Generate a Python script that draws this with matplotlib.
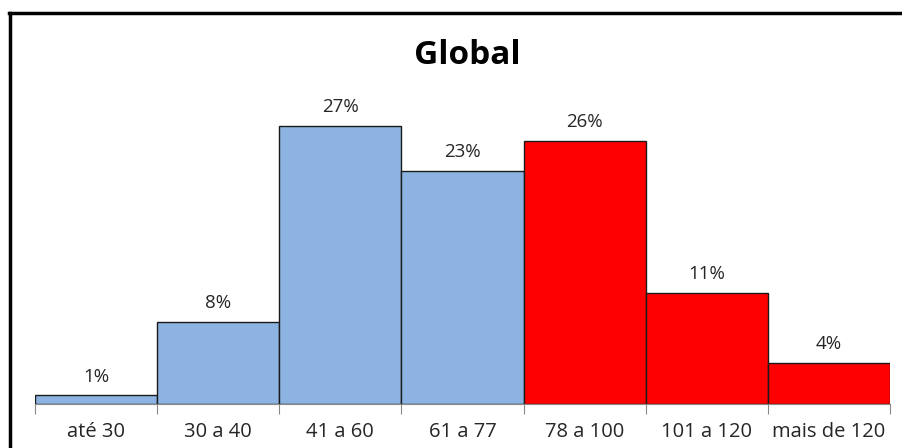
import matplotlib.pyplot as plt
from matplotlib.lines import Line2D

plt.rcParams["font.family"] = ["Open Sans", "DejaVu Sans"]

categories = ["até 30", "30 a 40", "41 a 60", "61 a 77", "78 a 100", "101 a 120", "mais de 120"]
shares = [0.8, 8.0, 27.1, 22.7, 25.6, 10.8, 4.0]
bar_colors = ["#8DB3E2"] * 4 + ["#FF0000"] * 3

W, H = 903, 448
fig = plt.figure(figsize=(W / 100, H / 100), dpi=100)

# plot area in pixels: x 35..890, baseline at y=403.5
x0, x1, y_base, y_top = 35, 890, 403.5, 96
ax = fig.add_axes([x0 / W, (H - y_base) / H, (x1 - x0) / W, (y_base - y_top) / H])

pos = list(range(len(categories)))
ax.bar(pos, shares, width=1.0, color=bar_colors, edgecolor="#1a1a1a", linewidth=1.0)
ax.set_xlim(-0.5, len(categories) - 0.5)
ax.set_ylim(0, 30)

for p, v in zip(pos, shares):
    ax.annotate(f"{v:.0f}%", (p, v), xytext=(0, 7), textcoords="offset points",
                ha="center", va="bottom", fontsize=13.5, color="#262626")

# ticks sit on the bar boundaries, labels under the bar centres
ax.set_xticks([p - 0.5 for p in pos] + [len(pos) - 0.5])
ax.set_xticklabels([])
ax.set_xticks(pos, minor=True)
ax.set_xticklabels(categories, minor=True, fontsize=14.5, color="#262626")
ax.tick_params(axis="x", which="major", length=7, width=0.8, color="#888888")
ax.tick_params(axis="x", which="minor", length=0, pad=13)
ax.set_yticks([])
for side in ["top", "right", "left"]:
    ax.spines[side].set_visible(False)
ax.spines["bottom"].set_color("#888888")
ax.spines["bottom"].set_linewidth(0.8)

fig.text(467 / W, 1 - 55 / H, "Global", ha="center", va="center",
         fontsize=24, fontweight="bold", color="black")

# outer frame (only top and left edges fall inside the image)
fig.add_artist(Line2D([10.5 / W, 10.5 / W], [0, 1 - 13 / H], transform=fig.transFigure,
                      color="black", linewidth=2.5))
fig.add_artist(Line2D([9.3 / W, 1], [1 - 13 / H, 1 - 13 / H], transform=fig.transFigure,
                      color="black", linewidth=2.5))

fig.savefig("out.png", dpi=100)
